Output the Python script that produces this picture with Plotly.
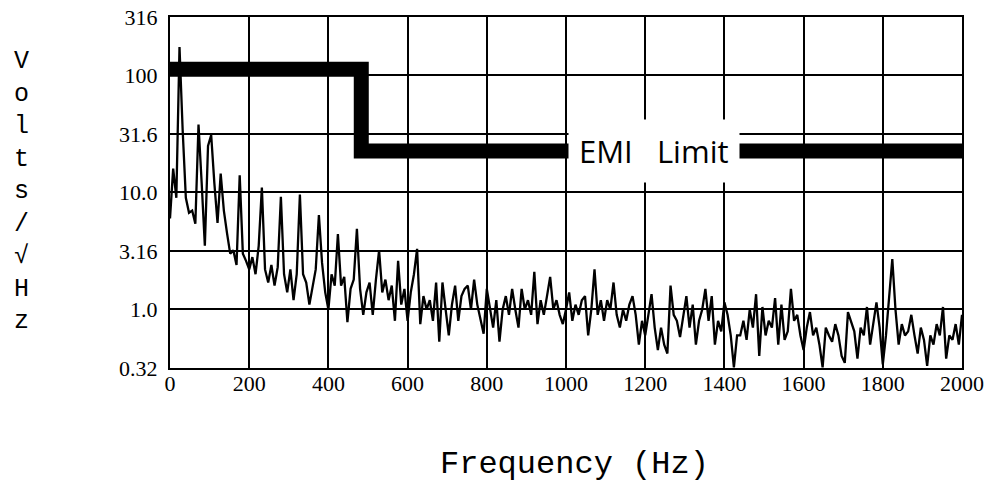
import math
import plotly.graph_objects as go

# Spectrum sampled every 8 Hz from 0 to 2000 Hz (V/sqrt(Hz))
freq_step = 8
psd_values = [
    # 0 - 192 Hz
    6.0, 16, 9, 175, 34, 9, 6.7, 7, 5.4, 38, 12, 3.5, 25, 31, 12, 5.5,
    14.5, 7, 4.5, 3.0, 3.2, 2.4, 14, 3.0, 2.6,
    # 200 - 392 Hz
    2.2, 2.8, 2.0, 3.5, 11, 2.2, 1.7, 2.4, 1.6, 2.3, 9.2, 2.0, 1.4, 2.2, 1.2,
    2.0, 9.6, 2.0, 1.7, 1.1, 1.5, 2.2, 6.4, 2.5, 1.4,
    # 400 - 592 Hz
    1.0, 2.0, 1.6, 4.4, 1.6, 1.9, 0.78, 1.5, 1.8, 4.9, 1.5, 0.9, 1.4, 1.7, 0.9,
    1.8, 3.2, 1.4, 1.8, 1.2, 1.6, 0.8, 2.6, 1.1, 1.5,
    # 600 - 792 Hz
    0.8, 1.4, 2.0, 3.3, 0.75, 1.3, 1.0, 1.2, 0.8, 1.7, 0.53, 1.7, 1.0, 0.6, 1.1,
    1.6, 0.8, 1.3, 1.5, 1.6, 1.0, 1.8, 1.1, 0.8, 0.62,
    # 800 - 992 Hz
    1.5, 1.0, 0.7, 1.2, 0.53, 1.0, 1.3, 0.9, 1.5, 1.0, 0.7, 1.5, 1.0, 1.2, 0.9,
    2.1, 0.75, 1.2, 0.9, 1.3, 1.9, 1.0, 1.2, 0.9, 0.75,
    # 1000 - 1192 Hz
    1.0, 1.4, 0.8, 1.1, 0.9, 1.2, 1.3, 0.6, 1.0, 2.2, 0.9, 1.2, 0.8, 1.2, 1.0,
    1.7, 0.9, 0.7, 1.0, 0.8, 1.1, 1.3, 0.9, 0.5, 0.8,
    # 1200 - 1392 Hz
    0.6, 0.9, 1.35, 0.7, 0.45, 0.7, 0.5, 0.42, 1.6, 0.9, 0.8, 0.58, 0.9, 1.3, 0.7,
    1.1, 0.5, 0.8, 1.0, 1.5, 0.8, 1.3, 0.5, 0.8, 0.65,
    # 1400 - 1592 Hz
    1.15, 0.9, 0.6, 0.32, 0.6, 0.6, 0.8, 0.55, 1.0, 0.7, 1.35, 0.4, 1.05, 0.6, 0.8,
    0.7, 1.25, 0.5, 1.1, 0.55, 0.65, 1.5, 0.8, 0.9, 0.6,
    # 1600 - 1792 Hz
    0.45, 0.7, 0.95, 0.6, 0.7, 0.5, 0.32, 0.7, 0.6, 0.53, 0.75, 0.6, 0.4, 0.35, 0.95,
    0.8, 0.65, 0.38, 0.7, 0.6, 1.05, 0.5, 0.8, 1.15, 0.7,
    # 1800 - 2000 Hz
    0.34, 0.6, 1.2, 2.7, 1.0, 0.5, 0.75, 0.6, 0.65, 0.9, 0.6, 0.42, 0.7, 0.55, 0.33,
    0.6, 0.5, 0.75, 0.6, 1.05, 0.38, 0.6, 0.55, 0.75, 0.5, 0.9,
]
freqs = [i * freq_step for i in range(len(psd_values))]

# EMI limit (step)
limit_freqs = [-8, 483, 483, 2010]
limit_levels = [113, 113, 22.6, 22.6]
limit_label = "EMI\u00a0\u00a0\u00a0Limit"
limit_label_freq = 1221

y_tickvals = [0.316, 1.0, 3.16, 10.0, 31.6, 100, 316]
y_ticktext = ["0.32", "1.0", "3.16", "10.0", "31.6", "100", "316"]
x_tickvals = [0, 200, 400, 600, 800, 1000, 1200, 1400, 1600, 1800, 2000]
x_ticktext = ["0", "200", "400", "600", "800", "1000", "1200", "1400", "1600", "1800", "2000"]

fig = go.Figure()
fig.add_trace(go.Scatter(x=freqs, y=psd_values, mode="lines",
                         line=dict(color="black", width=2.3), hoverinfo="x+y",
                         showlegend=False))
fig.add_trace(go.Scatter(x=limit_freqs, y=limit_levels, mode="lines",
                         line=dict(color="black", width=15), cliponaxis=False,
                         showlegend=False))

serif = "Liberation Serif, Times New Roman, serif"
mono = "Liberation Mono, Courier New, monospace"

fig.update_layout(
    width=997, height=484,
    margin=dict(l=170, r=35, t=17, b=116, autoexpand=False),
    paper_bgcolor="white", plot_bgcolor="white",
    xaxis=dict(range=[0, 2000], tickvals=x_tickvals, ticktext=x_ticktext,
               showgrid=True, gridcolor="black", gridwidth=1.6,
               showline=True, linecolor="black", linewidth=2, mirror=True,
               zeroline=False, ticks="", ticklabelstandoff=-5, automargin=False,
               tickfont=dict(family=serif, size=22, color="black")),
    yaxis=dict(type="log", range=[math.log10(0.316), math.log10(316)],
               tickvals=y_tickvals, ticktext=y_ticktext,
               showgrid=True, gridcolor="black", gridwidth=1.6,
               showline=True, linecolor="black", linewidth=2, mirror=True,
               zeroline=False, ticks="", ticklabelstandoff=6, automargin=False,
               tickfont=dict(family=serif, size=22, color="black")),
    annotations=[
        dict(text="<br>".join(list("Volts/√Hz")), xref="paper", yref="paper",
             x=-0.187, y=0.504, xanchor="center", yanchor="middle", showarrow=False,
             font=dict(family=mono, size=25, color="black")),
        dict(text="Frequency (Hz)", xref="paper", yref="paper",
             x=0.511, y=-0.276, xanchor="center", yanchor="middle", showarrow=False,
             font=dict(family=mono, size=32, color="black")),
        dict(text=limit_label, x=limit_label_freq, y=math.log10(limit_levels[-1]),
             xref="x", yref="y", showarrow=False, bgcolor="white", borderpad=10,
             font=dict(family="Open Sans, sans-serif", size=31, color="black")),
    ],
)

fig.write_html("out.html", config={"displayModeBar": False},
               post_script="document.body.style.margin='0';document.body.style.overflow='hidden';")
